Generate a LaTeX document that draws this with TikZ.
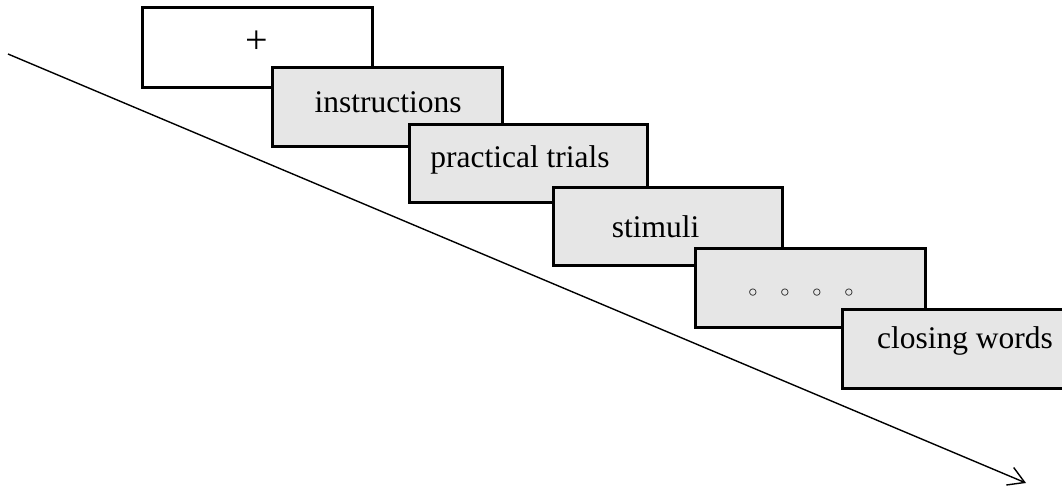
\documentclass[tikz,border=0pt]{standalone}
\usepackage{fontspec}
\setmainfont{Liberation Serif}
\newfontfamily\symfont{DejaVu Sans}
\usetikzlibrary{arrows.meta}
\definecolor{boxgray}{RGB}{230,230,230}
\begin{document}
\begin{tikzpicture}[x=1pt,y=-1pt,
  stagebox/.style={draw=black, line width=3pt, fill=boxgray, rectangle,
    inner sep=0pt, minimum width=230pt, minimum height=79pt},
  lbl/.style={font=\fontsize{31.5}{38}\selectfont, inner sep=0pt, anchor=base},
  timeline/.style={line width=1.4pt, -{Straight Barb[length=16pt,width=19pt]}}]
\useasboundingbox (0,0) rectangle (1062,491);
\clip (0,0) rectangle (1062,491);
\coordinate (s) at (8,54);
\coordinate (e) at (1026,483);
\draw[timeline] (s) -- (e);
\node[stagebox, fill=white, minimum height=80pt] (b0) at (257,47) {};
\node[stagebox] (b1) at (387,106.5) {};
\node[stagebox, minimum width=238pt, minimum height=78pt] (b2) at (528,163) {};
\node[stagebox, minimum width=229pt, minimum height=78pt] (b3) at (667.5,226) {};
\node[stagebox] (b4) at (810,287.5) {};
\node[stagebox] (b5) at (957,348.5) {};
\node[font=\fontsize{40}{44}\selectfont, inner sep=0pt] (t0) at (257,42) {+};
\node[lbl] (t1) at (388,112) {instructions};
\node[lbl] (t2) at (520,167) {practical trials};
\node[lbl] (t3) at (655.5,237) {stimuli};
\node[font=\symfont\fontsize{24}{26}\selectfont, inner sep=0pt] (t4) at (801,295)
  {\makebox[32pt]{◦}\makebox[32pt]{◦}\makebox[32pt]{◦}\makebox[32pt]{◦}};
\node[lbl] (t5) at (965,348) {closing words};
\end{tikzpicture}
\end{document}
